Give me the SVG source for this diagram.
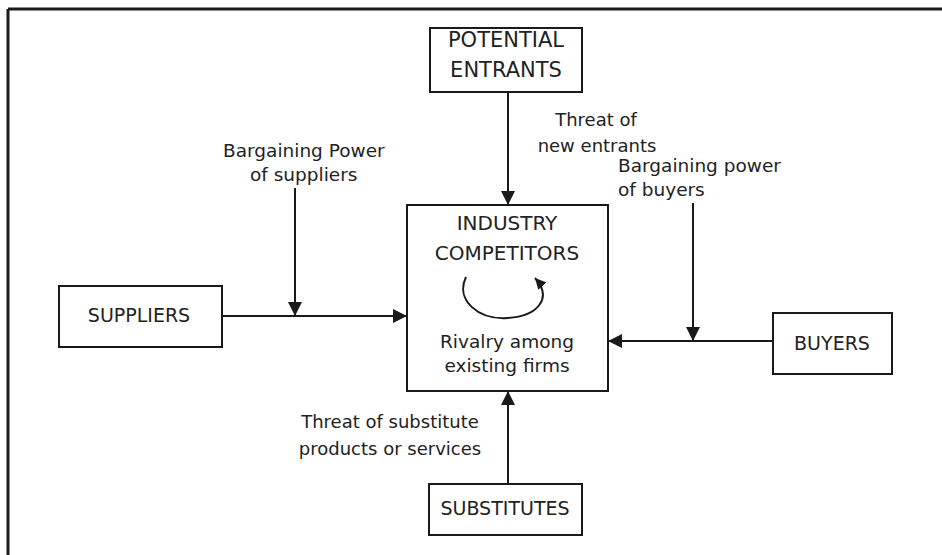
<svg xmlns="http://www.w3.org/2000/svg" width="942" height="555" viewBox="0 0 942 555">
<defs>
<marker id="ah" viewBox="0 0 10 10" refX="10" refY="5" markerWidth="11" markerHeight="11" markerUnits="userSpaceOnUse" orient="auto">
<path d="M0,0 L10,5 L0,10 z" fill="#1a1a1a"/>
</marker>
<marker id="ah2" viewBox="0 0 10 10" refX="10" refY="5" markerWidth="14" markerHeight="14" markerUnits="userSpaceOnUse" orient="auto">
<path d="M0,0 L10,5 L0,10 z" fill="#1a1a1a"/>
</marker>
</defs>
<style>
.box{fill:#fff;stroke:#1a1a1a;stroke-width:2}
.t{font-family:"DejaVu Sans","Liberation Sans",sans-serif;font-size:18px;fill:#222}
.cap{font-size:19px}
.big{font-size:20px}
.huge{font-size:21px}
.mid{font-size:18.5px}
.c{text-anchor:middle}
.ln{stroke:#1a1a1a;stroke-width:2;fill:none}
</style>
<rect width="942" height="555" fill="#fff"/>
<g id="frame">
<line x1="8" y1="9" x2="942" y2="9" stroke="#1a1a1a" stroke-width="3"/>
<line x1="8" y1="9" x2="8" y2="555" stroke="#1a1a1a" stroke-width="3"/>
</g>
<g id="connectors">
<line class="ln" x1="508" y1="92" x2="508" y2="205" marker-end="url(#ah2)"/>
<line class="ln" x1="222" y1="316" x2="407" y2="316" marker-end="url(#ah2)"/>
<line class="ln" x1="295" y1="188" x2="295" y2="316" marker-end="url(#ah2)"/>
<line class="ln" x1="773" y1="341" x2="608" y2="341" marker-end="url(#ah2)"/>
<line class="ln" x1="693" y1="203" x2="693" y2="341" marker-end="url(#ah2)"/>
<line class="ln" x1="508" y1="484" x2="508" y2="391" marker-end="url(#ah2)"/>
</g>
<g id="potential-entrants">
<rect class="box" x="430" y="28" width="152" height="64"/>
<text class="t c huge" x="506" y="47">POTENTIAL</text>
<text class="t c huge" x="506" y="77">ENTRANTS</text>
</g>
<g id="industry-competitors">
<rect class="box" x="407" y="205" width="201" height="186"/>
<text class="t c big" x="507" y="230">INDUSTRY</text>
<text class="t c big" x="507" y="260">COMPETITORS</text>
<path class="ln" stroke-width="1.5" d="M466,277 C455,300 478,320 508,318 C538,316 553,298 535,278" marker-end="url(#ah)"/>
<text class="t c mid" x="507" y="348">Rivalry among</text>
<text class="t c mid" x="507" y="372">existing firms</text>
</g>
<g id="suppliers">
<rect class="box" x="59" y="286" width="163" height="61"/>
<text class="t c cap" x="139" y="322">SUPPLIERS</text>
</g>
<g id="buyers">
<rect class="box" x="773" y="313" width="119" height="61"/>
<text class="t c cap" x="832" y="350">BUYERS</text>
</g>
<g id="substitutes">
<rect class="box" x="429" y="484" width="153" height="51"/>
<text class="t c cap" x="505" y="515">SUBSTITUTES</text>
</g>
<g id="labels">
<text class="t c" x="596" y="126">Threat of</text>
<text class="t c" x="597" y="152">new entrants</text>
<text class="t mid" x="223" y="157">Bargaining Power</text>
<text class="t mid" x="250" y="181">of suppliers</text>
<text class="t mid" x="618" y="172">Bargaining power</text>
<text class="t mid" x="618" y="196">of buyers</text>
<text class="t c" x="390" y="428">Threat of substitute</text>
<text class="t c" x="390" y="455">products or services</text>
</g>
</svg>
